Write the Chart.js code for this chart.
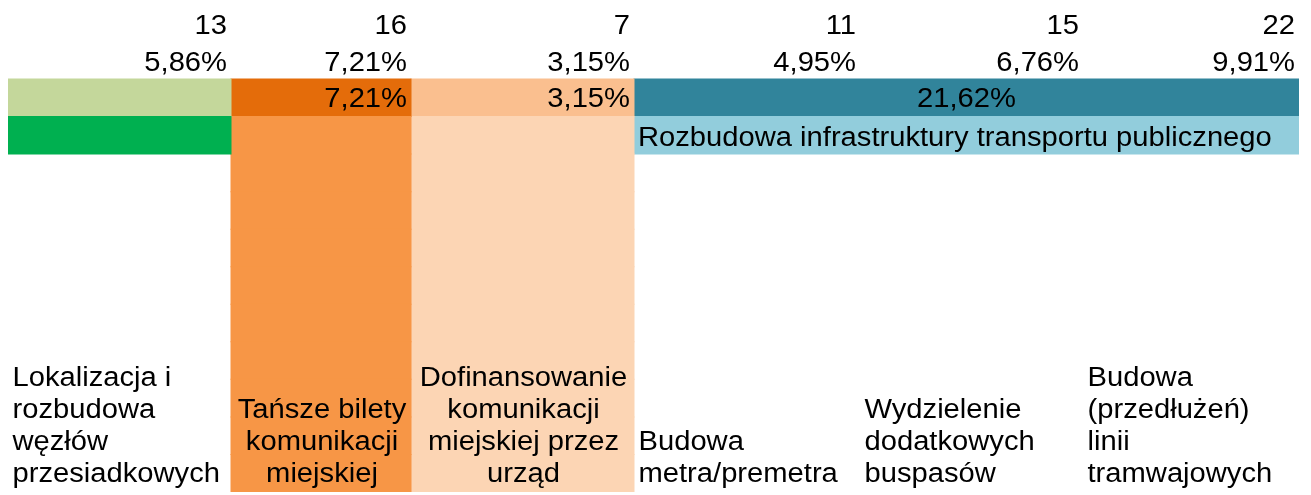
<!DOCTYPE html>
<html lang="pl">
<head>
<meta charset="utf-8">
<title>Komunikacja publiczna</title>
<script src="https://cdn.jsdelivr.net/npm/chart.js@4.4.1/dist/chart.umd.min.js"></script>
<style>
  html, body { margin: 0; padding: 0; background: #fff; }
  #wrap { position: relative; width: 1311px; height: 495px; }
</style>
</head>
<body>
<div id="wrap"><canvas id="chart"></canvas></div>
<script>
// level 2 categories, wrapped like in the sheet
const categories = [
    ['Lokalizacja i', 'rozbudowa', 'węzłów', 'przesiadkowych'],
    ['Tańsze bilety', 'komunikacji', 'miejskiej'],
    ['Dofinansowanie', 'komunikacji', 'miejskiej przez', 'urząd'],
    ['Budowa', 'metra/premetra'],
    ['Wydzielenie', 'dodatkowych', 'buspasów'],
    ['Budowa', '(przedłużeń)', 'linii', 'tramwajowych']
];
const counts = [13, 16, 7, 11, 15, 22];
const shares = [5.86, 7.21, 3.15, 4.95, 6.76, 9.91];

// level 1 groups
const groupNames = [
    'Lokalizacja i rozbudowa węzłów przesiadkowych',
    'Tańsze bilety komunikacji miejskiej',
    'Dofinansowanie komunikacji miejskiej przez urząd',
    'Rozbudowa infrastruktury transportu publicznego'
];
const groupShares = [null, 7.21, 3.15, 21.62];
const groupOf = [0, 1, 2, 3, 3, 3];

// layout + style
const colWidths = [223, 180, 223, 226, 223, 216];
const groupColors = [
    ['#c4d79b', '#00b050'],
    ['#e46c0a', '#f79646'],
    ['#fabf8f', '#fcd5b4'],
    ['#31849b', '#92cddc']
];
const groupFillsBody = [false, true, true, false];
const rowKeys = ['count', 'share', 'group', 'groupName', 'b1', 'b2', 'b3', 'b4', 'b5', 'b6', 'b7', 'b8', 'b9'];
const FONT = '27px "Liberation Sans", Arial, sans-serif';
const STRETCH = 1.08, PAD = 4, LINE = 32;

const colEdges = colWidths.reduce((a, w) => { a.push(a[a.length - 1] + w); return a; }, [0]);
const groupCols = groupNames.map((_, g) => groupOf.map((v, i) => v === g ? i : -1).filter(i => i >= 0));
const groupSpan = g => [colEdges[groupCols[g][0]], colEdges[groupCols[g][groupCols[g].length - 1] + 1]];
const pct = v => v.toFixed(2).replace('.', ',') + '%';

const datasets = groupNames.map((name, g) => ({
    label: name,
    data: rowKeys.map((k, r) => (r === 2 || r === 3 || (r > 3 && groupFillsBody[g])) ? groupSpan(g) : null),
    backgroundColor: rowKeys.map((k, r) => r === 2 ? groupColors[g][0] : groupColors[g][1]),
    borderWidth: 0,
    inflateAmount: 0.5,
    barPercentage: 1,
    categoryPercentage: 1,
    grouped: false
}));

function put(ctx, str, x, y, align) {
    ctx.save();
    ctx.translate(x, y);
    ctx.scale(STRETCH, 1);
    ctx.textAlign = align;
    ctx.fillText(str, 0, 0);
    ctx.restore();
}

const cellText = {
    id: 'cellText',
    afterDatasetsDraw(chart) {
        const ctx = chart.ctx, x = chart.scales.x, y = chart.scales.y;
        const band = y.getPixelForValue(1) - y.getPixelForValue(0);
        const rowBottom = r => y.getPixelForValue(r) + band / 2;
        const edge = i => x.getPixelForValue(colEdges[i]);
        ctx.save();
        ctx.font = FONT;
        ctx.fillStyle = '#000';
        ctx.textBaseline = 'alphabetic';

        counts.forEach((c, i) => {
            put(ctx, String(c), edge(i + 1) - PAD, rowBottom(0) - 7, 'right');
            put(ctx, pct(shares[i]), edge(i + 1) - PAD, rowBottom(1) - 8, 'right');
        });

        groupNames.forEach((name, g) => {
            const cols = groupCols[g];
            const x0 = edge(cols[0]), x1 = edge(cols[cols.length - 1] + 1);
            if (groupShares[g] !== null) {
                if (cols.length > 1) put(ctx, pct(groupShares[g]), (x0 + x1) / 2, rowBottom(2) - 10, 'center');
                else put(ctx, pct(groupShares[g]), x1 - PAD, rowBottom(2) - 10, 'right');
            }
            if (cols.length > 1) put(ctx, name, x0 + PAD, rowBottom(3) - 8, 'left');
        });

        const last = chart.chartArea.bottom - 10.5;
        categories.forEach((lines, i) => {
            const centred = groupFillsBody[groupOf[i]];
            const xx = centred ? (edge(i) + edge(i + 1)) / 2 + 1 : edge(i) + PAD + 0.5;
            lines.forEach((t, j) => {
                put(ctx, t, xx, last - (lines.length - 1 - j) * LINE, centred ? 'center' : 'left');
            });
        });
        ctx.restore();
    }
};

new Chart(document.getElementById('chart'), {
    type: 'bar',
    data: { labels: rowKeys, datasets: datasets },
    options: {
        indexAxis: 'y',
        responsive: true,
        maintainAspectRatio: false,
        animation: false,
        layout: { padding: { left: 8, right: 12, top: 3.9, bottom: 3 } },
        plugins: { legend: { display: false }, tooltip: { enabled: false } },
        scales: {
            x: { type: 'linear', min: 0, max: colEdges[colEdges.length - 1], display: false },
            y: { type: 'category', display: false, grid: { display: false } }
        }
    },
    plugins: [cellText]
});
</script>
</body>
</html>
